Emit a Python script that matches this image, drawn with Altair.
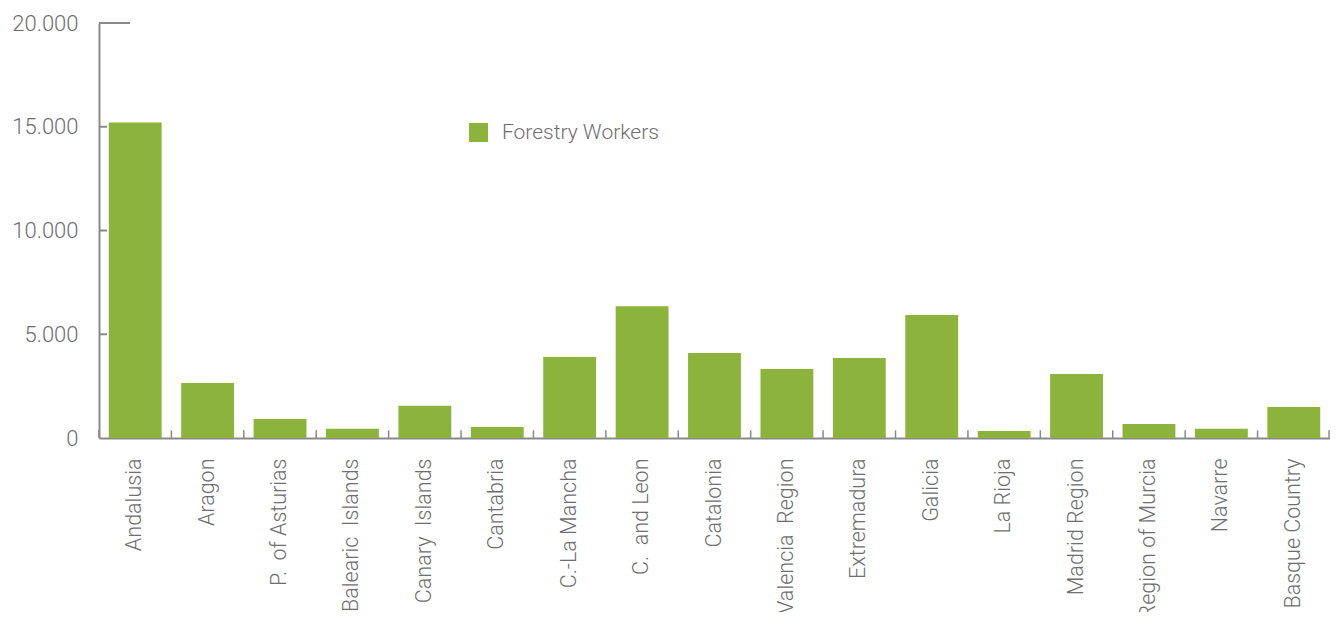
import altair as alt
import pandas as pd

regions = ["Andalusia", "Aragon", "P.\u00a0 of Asturias", "Balearic\u00a0 Islands",
           "Canary\u00a0 Islands", "Cantabria", "C.-La Mancha", "C.\u00a0 and Leon",
           "Catalonia", "Valencia\u00a0 Region", "Extremadura", "Galicia", "La Rioja",
           "Madrid Region", "Region of Murcia", "Navarre", "Basque Country"]
workers = [15200, 2650, 920, 450, 1550, 530, 3900, 6350, 4100, 3320, 3850, 5930,
           340, 3080, 680, 440, 1500]
series_name = "Forestry Workers"
y_tick_values = [0, 5000, 10000, 15000, 20000]
inner_y_ticks = [5000, 10000, 15000]
top_y_tick = [20000]

GREEN = "#8cb43c"
TEXT = "#6e6e6e"
AXIS = "#8a8a8a"
FONT = "Roboto"
HALF_GAP = 9.8  # half of the gap between bars, in px

df = pd.DataFrame({"region": regions, "workers": workers,
                   "series": [series_name] * len(regions)})
df_inner = pd.DataFrame({"workers": inner_y_ticks})
df_top = pd.DataFrame({"workers": top_y_tick})
df_last = pd.DataFrame({"region": regions[-1:]})

x_enc = alt.X("region:N", sort=regions, title=None,
              scale=alt.Scale(paddingInner=0.27, paddingOuter=0.135),
              axis=alt.Axis(labelAngle=-90, labelFontSize=21.5, labelColor=TEXT,
                            labelFont=FONT, labelFontWeight=300, labelPadding=20,
                            ticks=False, domainColor=AXIS, domainWidth=2,
                            labelLimit=400, title=None))
y_enc = alt.Y("workers:Q", title=None,
              scale=alt.Scale(domain=[0, 20000], nice=False),
              axis=alt.Axis(values=y_tick_values, ticks=False, grid=False,
                            labelExpr="replace(format(datum.value, ','), ',', '.')",
                            labelFontSize=22, labelColor=TEXT, labelFont=FONT,
                            labelFontWeight=300, labelPadding=21,
                            domainColor=AXIS, domainWidth=2, title=None))

bars = alt.Chart(df).mark_bar(color=GREEN).encode(
    x=x_enc,
    y=y_enc,
    color=alt.Color("series:N", scale=alt.Scale(range=[GREEN]),
                    legend=alt.Legend(title=None, orient="none", legendX=369, legendY=99,
                                      symbolType="square", symbolSize=361,
                                      symbolOpacity=1, symbolStrokeWidth=0,
                                      labelFontSize=21, labelFont=FONT,
                                      labelFontWeight=300, labelColor=TEXT,
                                      labelOffset=13, padding=0)),
)

x_ticks = alt.Chart(df).mark_rule(color=AXIS, strokeWidth=1.5, xOffset=-HALF_GAP).encode(
    x=alt.X("region:N", sort=regions, bandPosition=0, title=None),
    y=alt.datum(0),
    y2=alt.datum(370),
)
x_tick_end = alt.Chart(df_last).mark_rule(color=AXIS, strokeWidth=1.5, xOffset=HALF_GAP - 1).encode(
    x=alt.X("region:N", sort=regions, bandPosition=1, title=None),
    y=alt.datum(0),
    y2=alt.datum(370),
)

y_inner = alt.Chart(df_inner).mark_rule(color=AXIS, strokeWidth=2).encode(
    y=alt.Y("workers:Q", title=None),
    x=alt.value(0), x2=alt.value(8),
)
y_top = alt.Chart(df_top).mark_rule(color=AXIS, strokeWidth=2).encode(
    y=alt.Y("workers:Q", title=None),
    x=alt.value(0), x2=alt.value(31),
)

chart = alt.layer(bars, x_ticks, x_tick_end, y_inner, y_top).properties(
    width=1231, height=415,
    autosize=alt.AutoSizeParams(type="none"),
    padding={"left": 91, "top": 15, "right": 0, "bottom": 174},
    background="white",
).configure_view(stroke=None)

chart.save("out.html", embed_options={"renderer": "svg", "actions": False})
